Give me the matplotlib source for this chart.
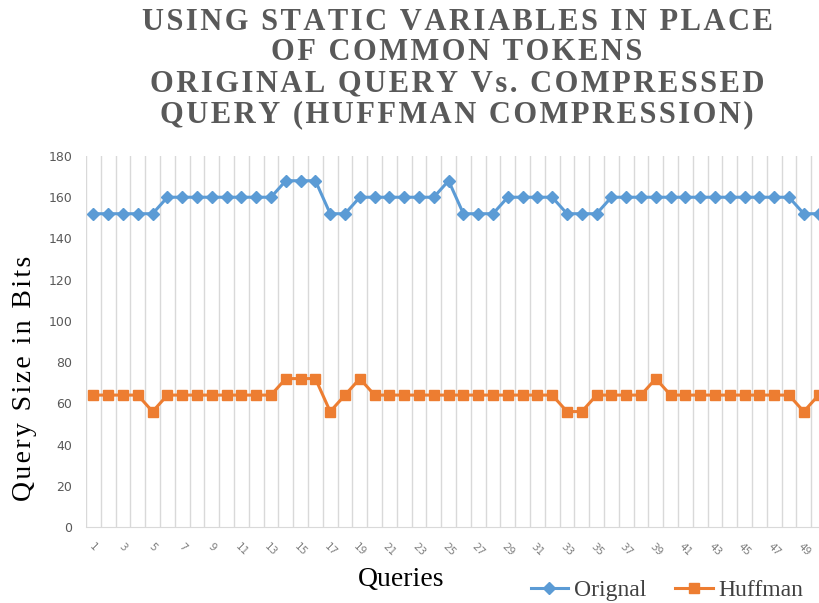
import numpy as np
import matplotlib
matplotlib.use("Agg")
import matplotlib.pyplot as plt

# query index 1..50
queries = list(range(1, 51))

orignal = [152, 152, 152, 152, 152, 160, 160, 160, 160, 160,
           160, 160, 160, 168, 168, 168, 152, 152, 160, 160,
           160, 160, 160, 160, 168, 152, 152, 152, 160, 160,
           160, 160, 152, 152, 152, 160, 160, 160, 160, 160,
           160, 160, 160, 160, 160, 160, 160, 160, 152, 152]

huffman = [64, 64, 64, 64, 56, 64, 64, 64, 64, 64,
           64, 64, 64, 72, 72, 72, 56, 64, 72, 64,
           64, 64, 64, 64, 64, 64, 64, 64, 64, 64,
           64, 64, 56, 56, 64, 64, 64, 64, 72, 64,
           64, 64, 64, 64, 64, 64, 64, 64, 56, 64]

title_lines = ["USING STATIC VARIABLES IN PLACE",
               "OF COMMON TOKENS",
               "ORIGINAL QUERY Vs. COMPRESSED",
               "QUERY (HUFFMAN COMPRESSION)"]

SERIF = ["Liberation Serif", "DejaVu Serif"]


def spaced(s, gap="\u200a"):
    # crude letter spacing: hair space between characters
    return gap.join(s)


W, H = 819, 603
fig = plt.figure(figsize=(W / 100, H / 100), dpi=100)
# plot area: x 86..826 px (right side runs off the picture), y 156..527 px
ax = fig.add_axes([86 / W, (H - 527) / H, (826 - 86) / W, (527 - 156) / H])

ax.plot(queries, orignal, color="#5B9BD5", lw=2.2, marker="D", ms=6.5,
        label="Orignal", clip_on=False, zorder=3)
ax.plot(queries, huffman, color="#ED7D31", lw=2.2, marker="s", ms=7.5,
        label="Huffman", clip_on=False, zorder=3)

ax.set_xlim(0.5, 50.5)
ax.set_ylim(0, 180)
ax.set_yticks(np.arange(0, 181, 20))
ax.set_xticks(queries[::2])
ax.set_xticks(np.arange(0.5, 51, 1), minor=True)
ax.grid(axis="x", which="minor", color="#D9D9D9", lw=1)
ax.tick_params(axis="both", which="both", length=0)
ax.tick_params(axis="y", labelsize=9, labelcolor="#595959", pad=10)
ax.tick_params(axis="x", labelsize=7.5, labelcolor="#7F7F7F", pad=10)
for lbl in ax.get_xticklabels():
    lbl.set_rotation(-45)
    lbl.set_ha("center")

for s in ["top", "right", "left"]:
    ax.spines[s].set_visible(False)
ax.spines["bottom"].set_color("#D9D9D9")

fig.text(25 / W, 1 - 378 / H, spaced("Query Size in Bits"),
         family=SERIF, fontsize=20, rotation=90, ha="center", va="center")

fig.text(401 / W, 1 - 580 / H, "Queries", family=SERIF,
         fontsize=20, ha="center", va="center")

for i, t in enumerate(title_lines):
    fig.text(457 / W, 1 - (22 + i * 31) / H, spaced(t), family=SERIF,
             fontweight="bold", fontsize=22, color="#595959",
             ha="center", va="center")

fig.legend(loc="center", bbox_to_anchor=(667 / W, 1 - 590 / H), ncol=2,
           frameon=False, prop={"family": SERIF, "size": 17},
           handlelength=1.6, columnspacing=1.2, handletextpad=0.25,
           labelcolor="#404040")

fig.savefig("out.png", dpi=100)
